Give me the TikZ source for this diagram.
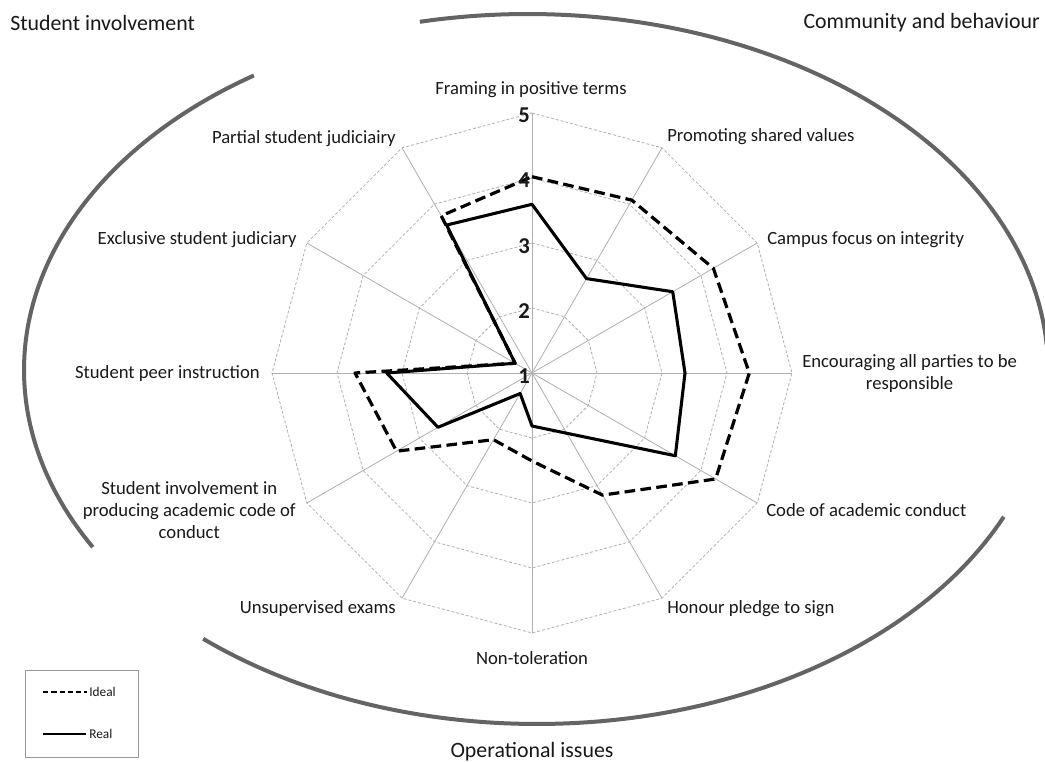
\documentclass[tikz,border=0pt]{standalone}
\usepackage{fontspec}
\setmainfont{Carlito}
\usetikzlibrary{calc}
\definecolor{arcgray}{RGB}{100,100,100}
\definecolor{gridgray}{RGB}{175,175,175}
\definecolor{txt}{RGB}{25,25,25}
\begin{document}
\begin{tikzpicture}[x=0.75pt,y=-0.75pt,
  ring/.style={draw=gridgray, line width=0.6pt, dash pattern=on 2.2pt off 1.5pt},
  axisline/.style={draw=gridgray, line width=0.6pt},
  ideal/.style={draw=black, line width=2.4pt, dash pattern=on 8pt off 4pt, line join=round},
  real/.style={draw=black, line width=2.3pt, line join=round},
  bigarc/.style={draw=arcgray, line width=3pt},
  lab/.style={font=\fontsize{14}{16.5}\selectfont, inner sep=0pt, text=txt},
  corner/.style={font=\fontsize{16.4}{19}\selectfont, inner sep=0pt, text=txt},
  vlab/.style={font=\fontsize{17}{17}\selectfont\bfseries, inner sep=0pt, text=txt},
  leglab/.style={font=\fontsize{10}{12}\selectfont, inner sep=0pt, text=txt},
  legbox/.style={draw=gray!80, line width=0.6pt}]
\useasboundingbox (0,0) rectangle (1045,762);
\fill[white] (0,0) rectangle (1045,762);
\coordinate (C) at (532,373);

% rings
\foreach \r in {65,130,195,260} {
  \draw[ring] ($(C)+(-90:\r)$) \foreach \k in {1,...,11} { -- ($(C)+({-90+30*\k}:\r)$) } -- cycle;
}
% axes
\foreach \k in {0,...,11} {
  \coordinate (O\k) at ($(C)+({-90+30*\k}:260)$);
  \draw[axisline] (C) -- (O\k);
}

% data points
\foreach \r [count=\i from 0] in {196.3,199.6,209.4,217.3,212,141,88,77,156.4,177,19.5,181.5}
  \coordinate (I\i) at ($(C)+({-90+30*\i}:\r)$);
\foreach \r [count=\i from 0] in {168.7,109,162.5,153,165.5,69.6,53,23.7,108.6,145.3,19.5,170.8}
  \coordinate (R\i) at ($(C)+({-90+30*\i}:\r)$);

\draw[real] (R0) -- (R1) -- (R2) -- (R3) -- (R4) -- (R5) -- (R6) -- (R7) -- (R8) -- (R9) -- (R10) -- (R11) -- cycle;
\draw[ideal] (I0) -- (I1) -- (I2) -- (I3) -- (I4) -- (I5) -- (I6) -- (I7) -- (I8) -- (I9) -- (I10) -- (I11) -- cycle;

% value labels
\node[vlab] (v5) at (524,115) {5};
\node[vlab] (v4) at (524,180) {4};
\node[vlab] (v3) at (524,246) {3};
\node[vlab] (v2) at (524,311) {2};
\node[vlab] (v1) at (524,376) {1};

% category labels
\node[lab] (L0) at (531,90) {Framing in positive terms};
\node[lab, anchor=west] (L1) at (667,137) {Promoting shared values};
\node[lab, anchor=west] (L2) at (767,240) {Campus focus on integrity};
\node[lab, anchor=west, align=center] (L3) at (802,374) {Encouraging all parties to be\\responsible};
\node[lab, anchor=west] (L4) at (766,510) {Code of academic conduct};
\node[lab, anchor=west] (L5) at (667,609) {Honour pledge to sign};
\node[lab] (L6) at (532,658) {Non-toleration};
\node[lab, anchor=east] (L7) at (396,609) {Unsupervised exams};
\node[lab, anchor=east, align=center] (L8) at (296,510) {Student involvement in\\producing academic code of\\conduct};
\node[lab, anchor=east] (L9) at (260,374) {Student peer instruction};
\node[lab, anchor=east] (L10) at (297,240) {Exclusive student judiciary};
\node[lab, anchor=east] (L11) at (396,139) {Partial student judiciairy};

% group arcs
\draw[bigarc] plot[domain=149.6:237.3, samples=90] ({524+500*cos(\x)}, {370+350*sin(\x)});
\draw[bigarc] plot[domain=258:356, samples=90] ({528+520*cos(\x)}, {370+356*sin(\x)});
\draw[bigarc] plot[domain=24.5:130.6, samples=90] ({537+513*cos(\x)}, {370+354*sin(\x)});

% group labels
\node[corner, anchor=west] (G1) at (10,23) {Student involvement};
\node[corner, anchor=east] (G2) at (1040,23) {Community and behaviour};
\node[corner] (G3) at (532,752) {Operational issues};

% legend
\draw[legbox] (25,670) rectangle (138,757);
\coordinate (la1) at (43,692);
\coordinate (lb1) at (87,692);
\coordinate (la2) at (43,734);
\coordinate (lb2) at (86,734);
\draw[draw=black, line width=1.5pt, dash pattern=on 4pt off 2.2pt] (la1) -- (lb1);
\draw[draw=black, line width=2pt] (la2) -- (lb2);
\node[leglab, anchor=west] (tI) at (89,692) {Ideal};
\node[leglab, anchor=west] (tR) at (89,734) {Real};
\end{tikzpicture}
\end{document}
